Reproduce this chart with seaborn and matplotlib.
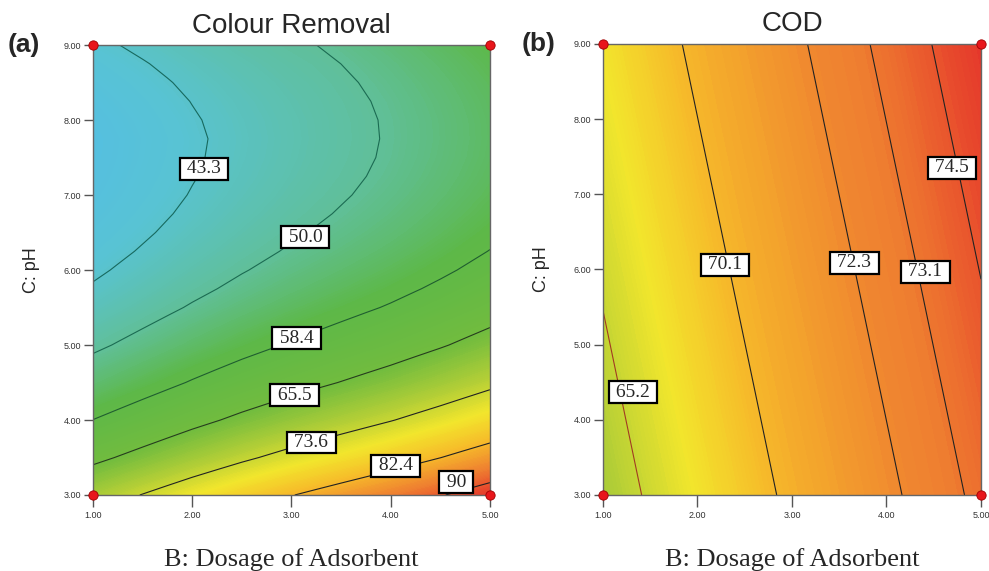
import matplotlib
matplotlib.use("Agg")
import numpy as np
import matplotlib.pyplot as plt
import seaborn as sns
from matplotlib.colors import LinearSegmentedColormap, Normalize

# Design space: B = dosage of adsorbent, C = pH
dosage = [1.0, 1.25, 1.5, 1.75, 2.0, 2.25, 2.5, 2.75, 3.0,
          3.25, 3.5, 3.75, 4.0, 4.25, 4.5, 4.75, 5.0]
ph_colour = [3.0, 3.5, 4.0, 4.5, 5.0, 5.5, 5.75, 6.0, 6.25, 6.5,
             6.75, 7.0, 7.25, 7.5, 7.75, 8.0, 8.25, 8.5, 8.75, 9.0]
ph_cod = [3.0, 4.5, 6.0, 7.5, 9.0]

# Colour removal (%), one row per pH value
colour_removal = [
    [70.75, 72.26, 73.77, 75.28, 76.79, 78.20, 79.61, 80.92, 82.24, 83.45, 84.66, 85.87, 87.08, 88.39, 89.70, 91.09, 92.47],
    [64.24, 65.69, 67.14, 68.59, 70.04, 71.39, 72.74, 73.99, 75.24, 76.39, 77.54, 78.69, 79.84, 81.09, 82.34, 83.66, 84.98],
    [58.45, 59.84, 61.24, 62.63, 64.03, 65.32, 66.62, 67.81, 69.01, 70.10, 71.20, 72.29, 73.39, 74.58, 75.78, 77.05, 78.32],
    [53.37, 54.72, 56.07, 57.41, 58.76, 60.01, 61.25, 62.40, 63.55, 64.60, 65.64, 66.69, 67.74, 68.88, 70.03, 71.25, 72.48],
    [49.01, 50.32, 51.62, 52.93, 54.23, 55.44, 56.65, 57.75, 58.86, 59.86, 60.87, 61.88, 62.88, 63.99, 65.09, 66.27, 67.45],
    [45.36, 46.64, 47.91, 49.18, 50.45, 51.62, 52.79, 53.87, 54.94, 55.91, 56.88, 57.85, 58.82, 59.89, 60.96, 62.11, 63.26],
    [43.81, 45.07, 46.32, 47.58, 48.84, 49.99, 51.15, 52.21, 53.26, 54.22, 55.18, 56.13, 57.09, 58.15, 59.20, 60.34, 61.47],
    [42.43, 43.68, 44.92, 46.16, 47.41, 48.55, 49.70, 50.74, 51.78, 52.73, 53.67, 54.61, 55.56, 56.60, 57.65, 58.76, 59.88],
    [41.24, 42.47, 43.70, 44.93, 46.17, 47.30, 48.43, 49.46, 50.50, 51.43, 52.36, 53.29, 54.23, 55.26, 56.29, 57.40, 58.51],
    [40.22, 41.44, 42.66, 43.89, 45.11, 46.23, 47.35, 48.38, 49.40, 50.32, 51.24, 52.17, 53.09, 54.11, 55.14, 56.23, 57.33],
    [39.38, 40.59, 41.81, 43.02, 44.24, 45.35, 46.47, 47.48, 48.50, 49.41, 50.33, 51.24, 52.16, 53.17, 54.19, 55.28, 56.37],
    [38.72, 39.92, 41.13, 42.34, 43.55, 44.66, 45.77, 46.78, 47.78, 48.69, 49.60, 50.51, 51.42, 52.43, 53.44, 54.52, 55.60],
    [38.23, 39.44, 40.64, 41.85, 43.05, 44.15, 45.26, 46.26, 47.27, 48.17, 49.07, 49.98, 50.88, 51.89, 52.89, 53.97, 55.05],
    [37.93, 39.13, 40.33, 41.53, 42.73, 43.84, 44.94, 45.94, 46.94, 47.84, 48.74, 49.64, 50.54, 51.54, 52.55, 53.62, 54.70],
    [37.80, 39.00, 40.20, 41.40, 42.60, 43.70, 44.80, 45.80, 46.80, 47.70, 48.60, 49.50, 50.40, 51.40, 52.40, 53.48, 54.55],
    [38.26, 39.42, 40.58, 41.73, 42.89, 43.94, 45.00, 45.96, 46.91, 47.77, 48.66, 49.56, 50.46, 51.46, 52.46, 53.54, 54.62],
    [39.00, 40.10, 41.20, 42.31, 43.41, 44.42, 45.42, 46.33, 47.23, 48.03, 48.92, 49.82, 50.72, 51.73, 52.73, 53.81, 54.88],
    [39.91, 40.96, 42.01, 43.07, 44.13, 45.08, 46.03, 46.88, 47.73, 48.49, 49.37, 50.27, 51.18, 52.19, 53.19, 54.28, 55.36],
    [41.00, 42.01, 43.01, 44.02, 45.02, 45.92, 46.83, 47.63, 48.44, 49.14, 50.01, 50.93, 51.84, 52.85, 53.86, 54.95, 56.04],
    [42.27, 43.23, 44.19, 45.15, 46.11, 46.96, 47.82, 48.57, 49.33, 49.99, 50.85, 51.77, 52.69, 53.71, 54.73, 55.83, 56.92],
]

# COD removal (%)
cod_removal = [
    [63.76, 64.64, 65.52, 66.40, 67.28, 68.16, 69.04, 69.92, 70.43, 70.84, 71.25, 71.66, 72.07, 72.42, 72.69, 72.97, 73.40],
    [64.64, 65.52, 66.40, 67.28, 68.16, 69.04, 69.92, 70.43, 70.84, 71.25, 71.66, 72.07, 72.42, 72.69, 72.97, 73.40, 73.97],
    [65.52, 66.40, 67.28, 68.16, 69.04, 69.92, 70.43, 70.84, 71.25, 71.66, 72.07, 72.42, 72.69, 72.97, 73.40, 73.97, 74.55],
    [66.40, 67.28, 68.16, 69.04, 69.92, 70.43, 70.84, 71.25, 71.66, 72.07, 72.42, 72.69, 72.97, 73.40, 73.97, 74.55, 75.12],
    [67.28, 68.16, 69.04, 69.92, 70.43, 70.84, 71.25, 71.66, 72.07, 72.42, 72.69, 72.97, 73.40, 73.97, 74.55, 75.12, 75.69],
]

colour_levels = [43.3, 50.0, 58.4, 65.5, 73.6, 82.4, 90]
colour_level_text = ["43.3", "50.0", "58.4", "65.5", "73.6", "82.4", "90"]
cod_levels = [65.2, 70.1, 72.3, 73.1, 74.5]
cod_level_text = ["65.2", "70.1", "72.3", "73.1", "74.5"]

# factorial corner points of the design
design_dosage = [1.0, 1.0, 5.0, 5.0]
design_ph = [3.0, 9.0, 3.0, 9.0]

# where the level boxes sit
colour_label_pos = [(2.12, 7.35), (3.14, 6.44), (3.05, 5.09), (3.03, 4.33),
                    (3.20, 3.70), (4.05, 3.39), (4.66, 3.17)]
cod_label_pos = [(1.32, 4.37), (2.29, 6.06), (3.66, 6.09), (4.41, 5.97), (4.69, 7.35)]

sns.set_style("white")
plt.rcParams["font.family"] = ["Liberation Sans", "DejaVu Sans"]

# Design-Expert style ramp (blue -> green -> yellow -> red)
cmap = LinearSegmentedColormap.from_list("dx", [
    (0.0, "#54BEE4"), (0.105, "#58C3D4"), (0.246, "#60BF98"), (0.368, "#5DB848"),
    (0.526, "#72BC3E"), (0.632, "#B5CF36"), (0.719, "#F2E62C"), (0.807, "#F6BB2A"),
    (0.895, "#EF8230"), (1.0, "#E4312B")])

fig = plt.figure(figsize=(9.89, 5.71), dpi=100)
ax_a = fig.add_axes([0.094, 0.1331, 0.4014, 0.788])
ax_b = fig.add_axes([0.6097, 0.1331, 0.3822, 0.79])


def draw_panel(ax, z, ph, levels, texts, label_pos, norm, line_colors, title, tag):
    z = np.array(z)
    ax.contourf(dosage, ph, z, levels=np.linspace(norm.vmin, norm.vmax, 220),
                cmap=cmap, norm=norm, extend="both")
    ax.contour(dosage, ph, z, levels=levels, colors=line_colors, linewidths=0.8)
    for (px, py), txt in zip(label_pos, texts):
        ax.text(px, py, " " + txt + " ", ha="center", va="center", fontsize=14,
                family=["Liberation Serif"], zorder=6,
                bbox=dict(boxstyle="square,pad=0.12", fc="white", ec="black", lw=1.6))
    sns.scatterplot(x=design_dosage, y=design_ph, ax=ax, color="#E8161B", s=45,
                    edgecolor="#A00000", linewidth=0.6, zorder=7, clip_on=False)
    ax.set_xlim(1, 5)
    ax.set_ylim(3, 9)
    ax.set_xticks([1, 2, 3, 4, 5])
    ax.set_yticks([3, 4, 5, 6, 7, 8, 9])
    ax.set_xticklabels(["%.2f" % v for v in [1, 2, 3, 4, 5]])
    ax.set_yticklabels(["%.2f" % v for v in [3, 4, 5, 6, 7, 8, 9]])
    ax.tick_params(axis="x", length=8.5, width=1, color="#555", labelsize=6.5,
                   labelcolor="#333", pad=3, direction="out", bottom=True)
    ax.tick_params(axis="y", length=6.5, width=1, color="#555", labelsize=6.5,
                   labelcolor="#333", pad=2, direction="out", left=True)
    for s in ax.spines.values():
        s.set_color("#666")
        s.set_linewidth(1)
    ax.set_title(title, fontsize=20, pad=9)
    ax.set_ylabel("C: pH", fontsize=13, labelpad=17)
    ax.set_xlabel("B: Dosage of Adsorbent", fontsize=19, family=["Liberation Serif"],
                  labelpad=20)
    ax.text(-0.215, 1.0, tag, transform=ax.transAxes, fontsize=19, fontweight="bold",
            ha="left", va="center")


draw_panel(ax_a, colour_removal, ph_colour, colour_levels, colour_level_text,
           colour_label_pos, Normalize(36, 93),
           ["#17695E", "#1B6B52", "#1F5E30", "#263D1E", "#222222", "#222222", "#222222"],
           "Colour Removal", "(a)")
draw_panel(ax_b, cod_removal, ph_cod, cod_levels, cod_level_text,
           cod_label_pos, Normalize(44.6, 76.0),
           ["#A23A22", "#222222", "#222222", "#222222", "#222222"],
           "COD", "(b)")

fig.savefig("out.png", dpi=100)
